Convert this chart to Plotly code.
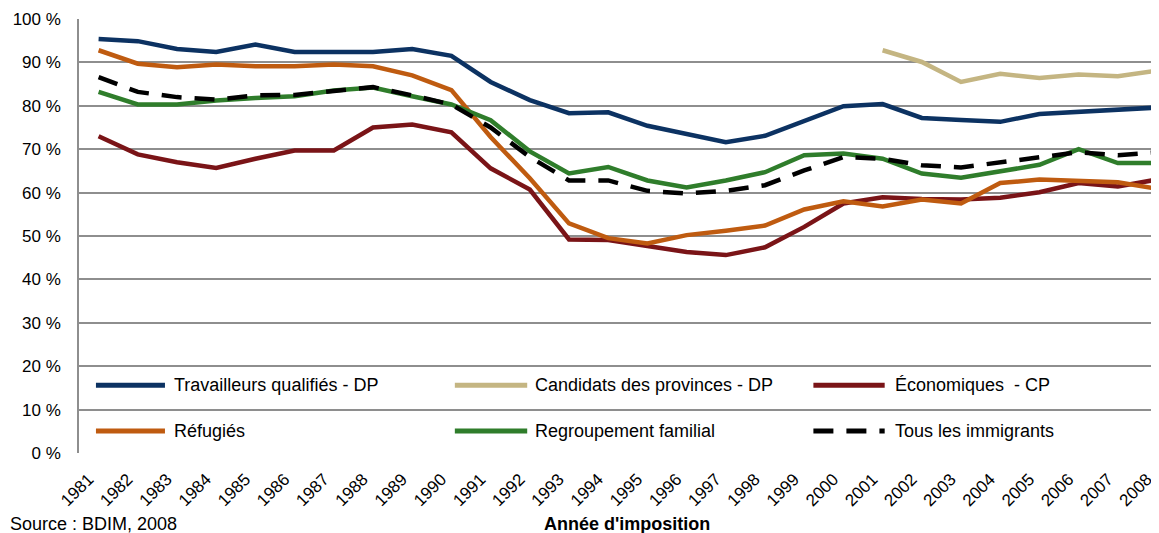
import plotly.graph_objects as go

years = [str(y) for y in range(1981, 2009)]

travailleurs = [95.4, 94.9, 93.1, 92.4, 94.1, 92.4, 92.4, 92.4, 93.1, 91.5,
                85.5, 81.3, 78.3, 78.5, 75.4, 73.5, 71.6, 73.1, 76.6, 79.9,
                80.4, 77.2, 76.7, 76.3, 78.1, 78.6, 79.0, 79.6]
candidats = [None] * 20 + [92.8, 90.1, 85.5, 87.4, 86.4, 87.2, 86.8, 88.1]
economiques = [73.0, 68.8, 67.0, 65.7, 67.8, 69.7, 69.7, 75.0, 75.7, 73.9,
               65.6, 60.7, 49.2, 49.1, 47.7, 46.3, 45.6, 47.4, 52.1, 57.5,
               58.9, 58.5, 58.4, 58.8, 60.1, 62.2, 61.4, 63.0]
refugies = [92.8, 89.7, 88.9, 89.5, 89.1, 89.1, 89.5, 89.1, 87.0, 83.6,
            72.8, 63.3, 52.9, 49.5, 48.3, 50.2, 51.2, 52.4, 56.1, 58.0,
            56.8, 58.4, 57.5, 62.2, 63.0, 62.8, 62.4, 60.9]
regroupement = [83.2, 80.3, 80.3, 81.2, 81.8, 82.2, 83.5, 84.2, 82.2, 80.3,
                76.7, 69.5, 64.4, 65.9, 62.8, 61.2, 62.8, 64.7, 68.6, 69.0,
                67.8, 64.4, 63.4, 65.0, 66.4, 70.0, 66.8, 66.8]
tous = [86.6, 83.2, 82.0, 81.4, 82.4, 82.5, 83.4, 84.3, 82.4, 80.3,
        75.0, 68.2, 62.8, 62.8, 60.4, 59.8, 60.4, 61.7, 65.1, 68.2,
        67.8, 66.3, 65.8, 67.0, 68.2, 69.3, 68.6, 69.3]

y_ticks = list(range(0, 101, 10))
y_labels = [f"{v} %" for v in y_ticks]

# name, values, colour, dash ; listed in legend order (row by row)
series = [
    ("Travailleurs qualifiés - DP", travailleurs, "#0c3262", "solid"),
    ("Candidats des provinces - DP", candidats, "#c4b582", "solid"),
    ("Économiques  - CP", economiques, "#7a1417", "solid"),
    ("Réfugiés", refugies, "#bf5b10", "solid"),
    ("Regroupement familial", regroupement, "#2f7d2b", "solid"),
    ("Tous les immigrants", tous, "#000000", "20px,13px"),
]

FONT = "Liberation Sans, Arial, sans-serif"
GRID = "#8e8e8e"

fig = go.Figure()
for name, vals, color, dash in series:
    fig.add_trace(go.Scatter(x=years, y=vals, name=name, mode="lines",
                             line=dict(color=color, width=4.5, dash=dash),
                             showlegend=False))

# hand-drawn legend (long keys like the original)
key_x = [(0.0157, 0.0796, 0.0861), (0.348, 0.415, 0.420), (0.680, 0.746, 0.754)]
key_y = [0.156, 0.0506]
for i, (name, vals, color, dash) in enumerate(series):
    x0, x1, xt = key_x[i % 3]
    y = key_y[i // 3]
    fig.add_shape(type="line", xref="paper", yref="paper", x0=x0, x1=x1, y0=y, y1=y,
                  line=dict(color=color, width=5, dash=dash))
    fig.add_annotation(xref="paper", yref="paper", x=xt, y=y, text=name, showarrow=False,
                       xanchor="left", yanchor="middle",
                       font=dict(family=FONT, size=18, color="#000000"))

fig.add_annotation(xref="paper", yref="paper", x=0.507, y=-0.163, text="<b>Année d'imposition</b>",
                   showarrow=False, xanchor="center", yanchor="middle",
                   font=dict(family=FONT, size=18, color="#000000"))
fig.add_annotation(xref="paper", yref="paper", x=-0.0657, y=-0.163, text="Source : BDIM, 2008",
                   showarrow=False, xanchor="left", yanchor="middle",
                   font=dict(family=FONT, size=18, color="#000000"))

# page body has an 8px margin, so the figure is shrunk by that much
fig.update_layout(
    width=1151, height=525,
    margin=dict(l=71, r=0, t=11, b=80),
    paper_bgcolor="white", plot_bgcolor="white",
    font=dict(family=FONT, size=16, color="#000000"),
    showlegend=False,
    xaxis=dict(
        type="category", range=[-0.5, 27.05], tickangle=-45,
        showgrid=False, showline=False, ticks="", automargin=False,
        tickfont=dict(family=FONT, size=17, color="#000000"),
        ticklabelstandoff=12, ticklabelshift=-10,
    ),
    yaxis=dict(
        range=[0, 100], tickvals=y_ticks, ticktext=y_labels,
        showgrid=True, gridcolor=GRID, gridwidth=1.5, automargin=False,
        zeroline=False, showline=True, linecolor=GRID, linewidth=1.5,
        ticks="", ticklabelstandoff=13,
        tickfont=dict(family=FONT, size=17, color="#000000"),
    ),
)

fig.write_html("out.html")
